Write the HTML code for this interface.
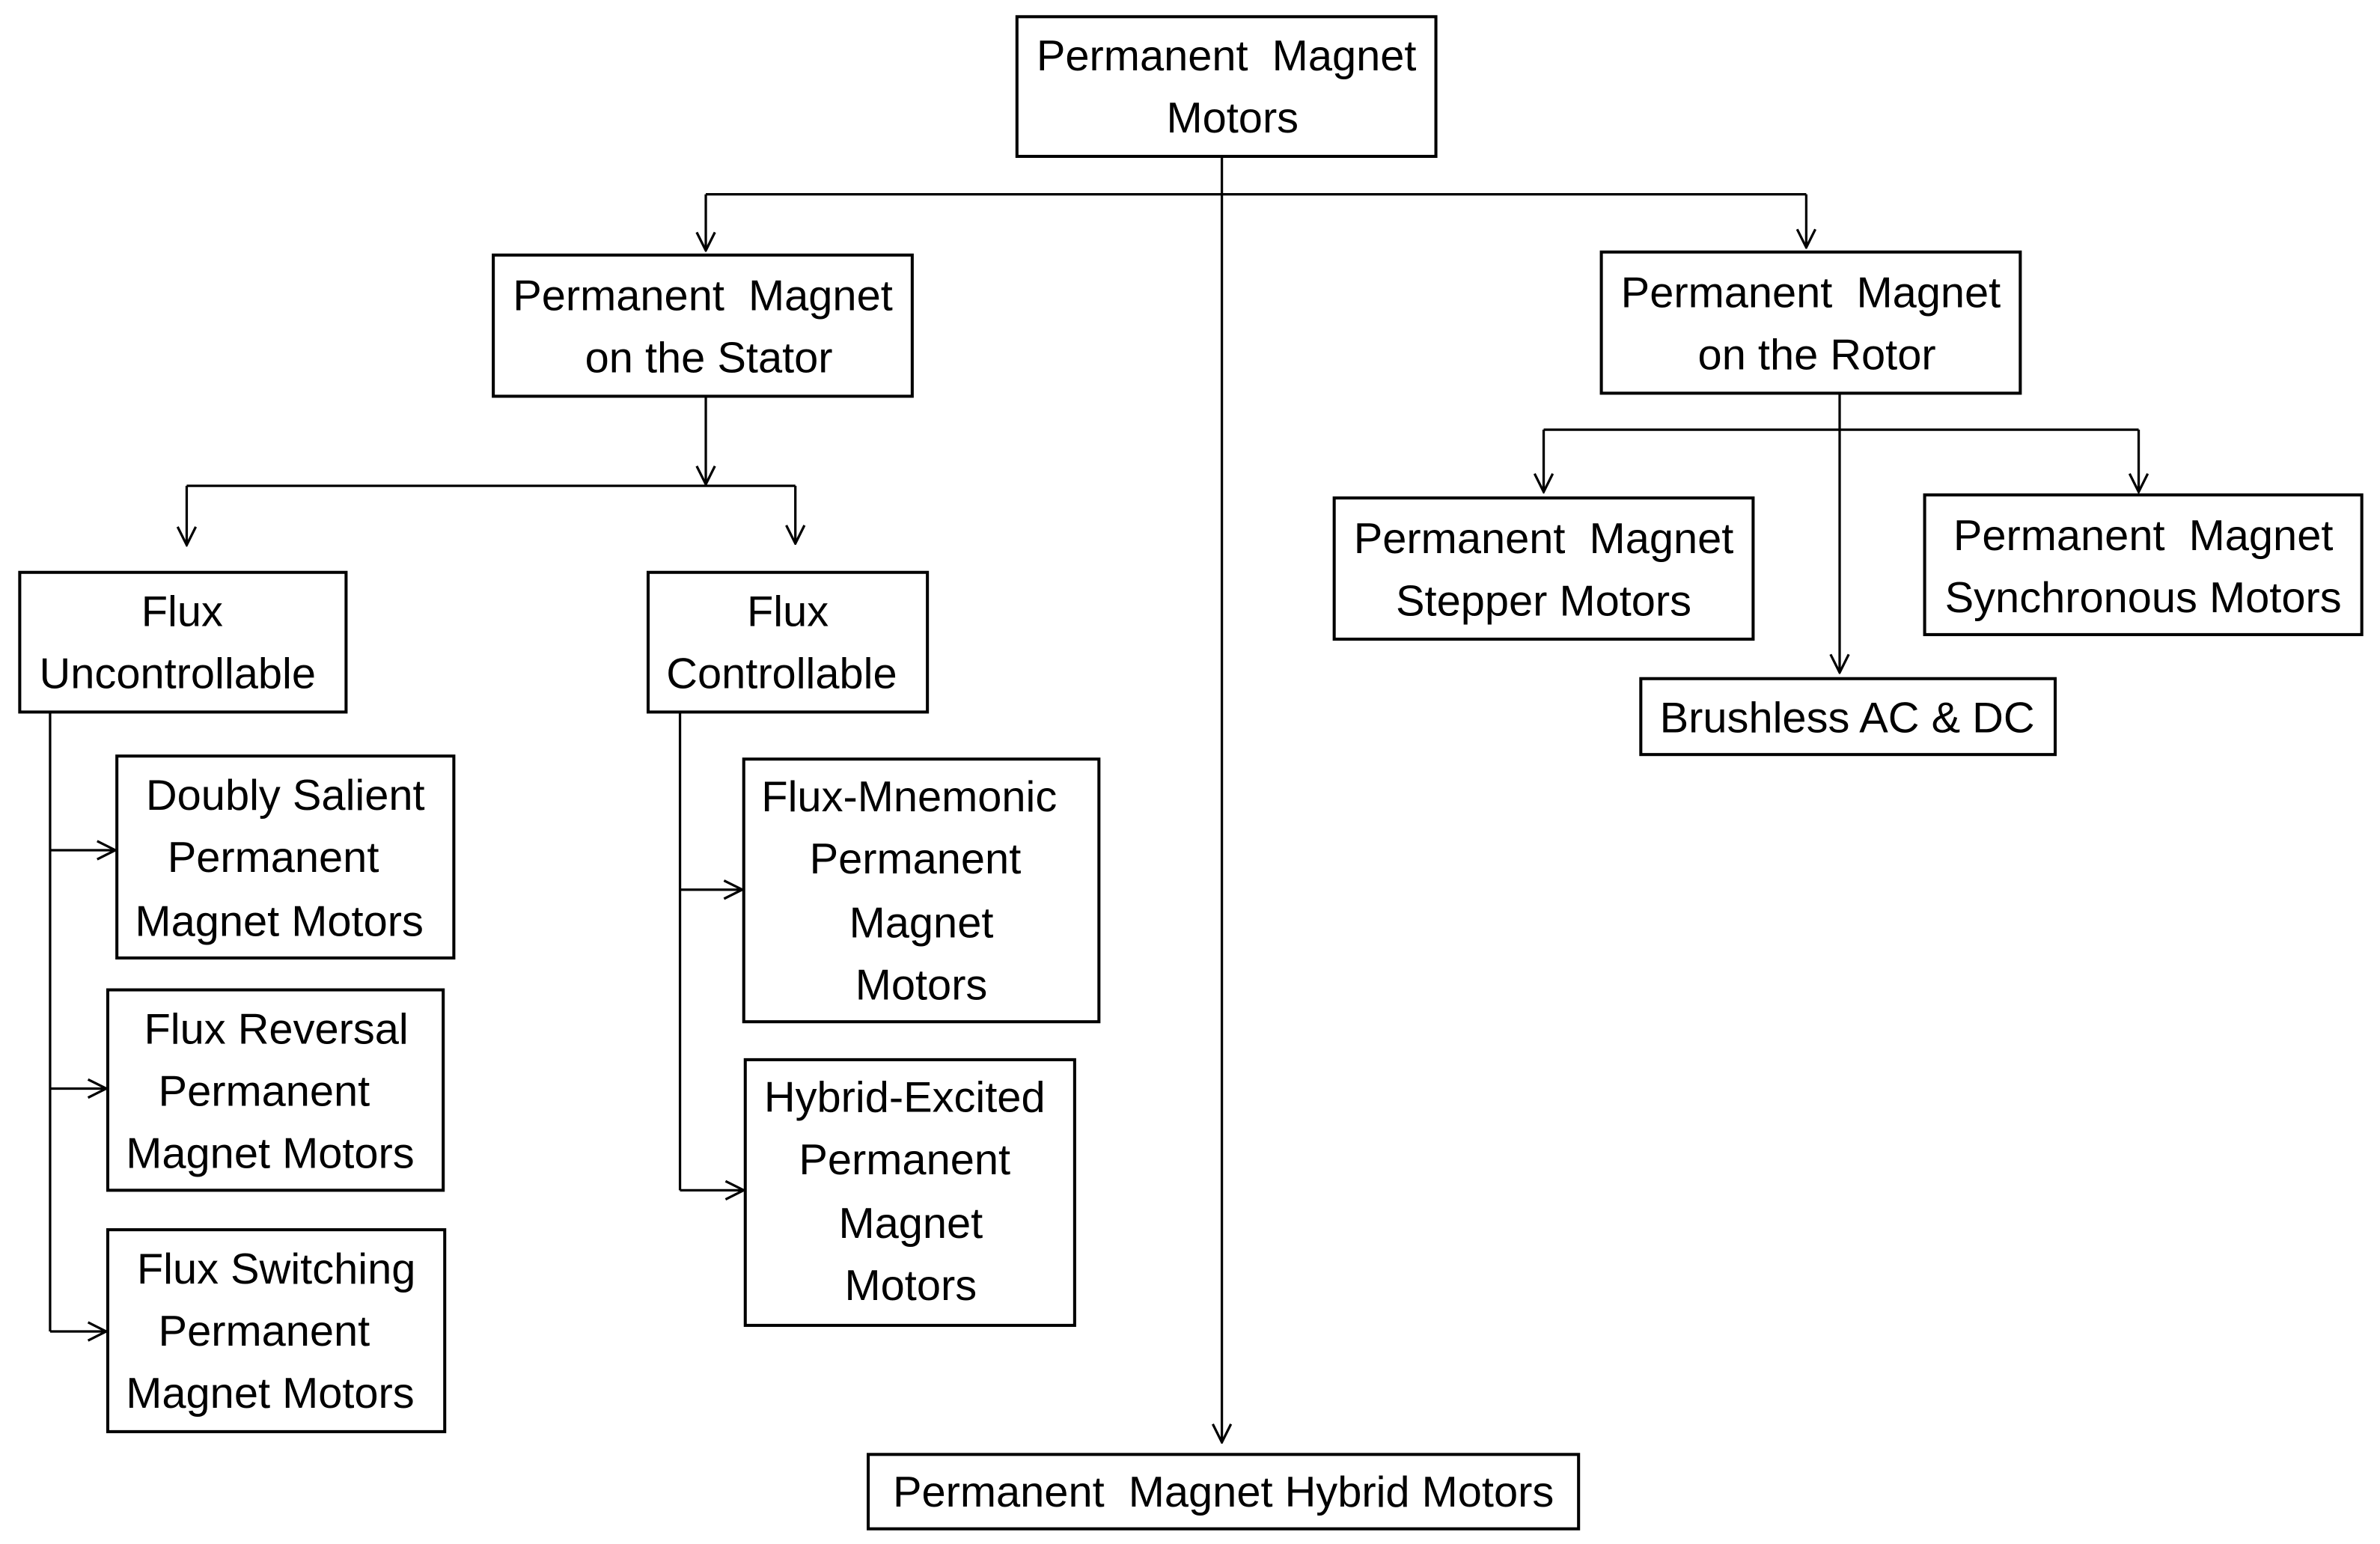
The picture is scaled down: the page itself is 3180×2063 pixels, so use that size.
<!DOCTYPE html>
<html><head><meta charset="utf-8"><style>
html,body{margin:0;padding:0;background:#fff;}
svg{display:block;}
text{font-family:"Liberation Sans",sans-serif;font-size:28.5px;fill:#000;text-anchor:middle;dominant-baseline:central;}
</style></head><body>
<svg width="3180" height="2063" viewBox="0 0 1568 1017" preserveAspectRatio="none" xmlns="http://www.w3.org/2000/svg">
<defs><marker id="a" viewBox="0 0 14 14" refX="13" refY="7" markerWidth="14" markerHeight="14" markerUnits="userSpaceOnUse" orient="auto"><path d="M1,1 L13,7 L1,13" fill="none" stroke="#000" stroke-width="1.6"/></marker></defs>
<g fill="none" stroke="#000" stroke-width="2">
<rect x="670" y="11" width="276" height="92"/>
<rect x="325" y="168" width="276" height="93"/>
<rect x="1055" y="166" width="276" height="93"/>
<rect x="13" y="377" width="215" height="92"/>
<rect x="427" y="377" width="184" height="92"/>
<rect x="77" y="498" width="222" height="133"/>
<rect x="71" y="652" width="221" height="132"/>
<rect x="71" y="810" width="222" height="133"/>
<rect x="490" y="500" width="234" height="173"/>
<rect x="491" y="698" width="217" height="175"/>
<rect x="879" y="328" width="276" height="93"/>
<rect x="1268" y="326" width="288" height="92"/>
<rect x="1081" y="447" width="273" height="50"/>
<rect x="572" y="958" width="468" height="49"/>
</g>
<g fill="none" stroke="#000" stroke-width="1.6">
<line x1="805" y1="103" x2="805" y2="950" marker-end="url(#a)"/>
<line x1="465" y1="128" x2="1190" y2="128"/>
<line x1="465" y1="128" x2="465" y2="165" marker-end="url(#a)"/>
<line x1="1190" y1="128" x2="1190" y2="163" marker-end="url(#a)"/>
<line x1="465" y1="261" x2="465" y2="319" marker-end="url(#a)"/>
<line x1="123" y1="320" x2="524" y2="320"/>
<line x1="123" y1="320" x2="123" y2="359" marker-end="url(#a)"/>
<line x1="524" y1="320" x2="524" y2="358" marker-end="url(#a)"/>
<line x1="1212" y1="259" x2="1212" y2="443" marker-end="url(#a)"/>
<line x1="1017" y1="283" x2="1409" y2="283"/>
<line x1="1017" y1="283" x2="1017" y2="324" marker-end="url(#a)"/>
<line x1="1409" y1="283" x2="1409" y2="324" marker-end="url(#a)"/>
<line x1="33" y1="469" x2="33" y2="877"/>
<line x1="33" y1="560" x2="76" y2="560" marker-end="url(#a)"/>
<line x1="33" y1="717" x2="70" y2="717" marker-end="url(#a)"/>
<line x1="33" y1="877" x2="70" y2="877" marker-end="url(#a)"/>
<line x1="448" y1="469" x2="448" y2="784"/>
<line x1="448" y1="586" x2="489" y2="586" marker-end="url(#a)"/>
<line x1="448" y1="784" x2="490" y2="784" marker-end="url(#a)"/>
</g>
<text x="808" y="37" xml:space="preserve">Permanent  Magnet</text><text x="812" y="78">Motors</text>
<text x="463" y="195" xml:space="preserve">Permanent  Magnet</text><text x="467" y="236">on the Stator</text>
<text x="1193" y="193" xml:space="preserve">Permanent  Magnet</text><text x="1197" y="234">on the Rotor</text>
<text x="120" y="403">Flux</text><text x="117" y="444">Uncontrollable</text>
<text x="519" y="403">Flux</text><text x="515" y="444">Controllable</text>
<text x="188" y="524">Doubly Salient</text><text x="180" y="565">Permanent</text><text x="184" y="607">Magnet Motors</text>
<text x="182" y="678">Flux Reversal</text><text x="174" y="719">Permanent</text><text x="178" y="760">Magnet Motors</text>
<text x="182" y="836">Flux Switching</text><text x="174" y="877">Permanent</text><text x="178" y="918">Magnet Motors</text>
<text x="599" y="525">Flux-Mnemonic</text><text x="603" y="566">Permanent</text><text x="607" y="608">Magnet</text><text x="607" y="649">Motors</text>
<text x="596" y="723">Hybrid-Excited</text><text x="596" y="764">Permanent</text><text x="600" y="806">Magnet</text><text x="600" y="847">Motors</text>
<text x="1017" y="355" xml:space="preserve">Permanent  Magnet</text><text x="1017" y="396">Stepper Motors</text>
<text x="1412" y="353" xml:space="preserve">Permanent  Magnet</text><text x="1412" y="394">Synchronous Motors</text>
<text x="1217" y="473">Brushless AC &amp; DC</text>
<text x="806" y="983" xml:space="preserve">Permanent  Magnet Hybrid Motors</text>
</svg>
</body></html>
